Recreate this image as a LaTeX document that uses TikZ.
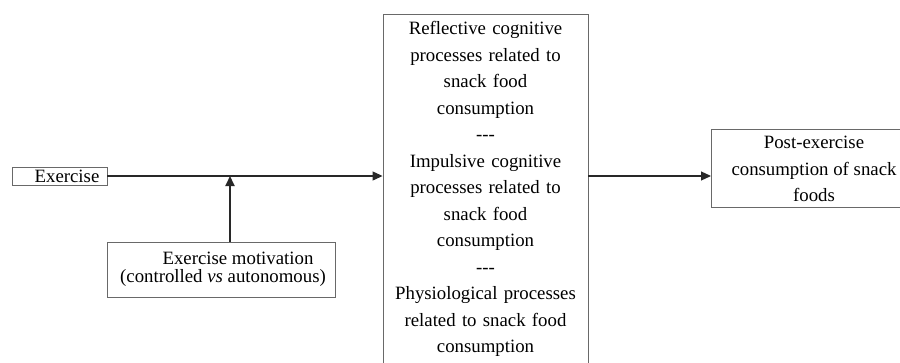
\documentclass[tikz,border=0pt]{standalone}
\usepackage{fontspec}
\setmainfont{Liberation Serif}
\usetikzlibrary{arrows.meta}
\definecolor{boxgray}{RGB}{105,105,105}
\definecolor{linegray}{RGB}{40,40,40}
\begin{document}
\begin{tikzpicture}[x=1pt,y=-1pt,
  box/.style={draw=boxgray,line width=0.9pt,inner sep=0pt,rectangle},
  txt/.style={inner sep=0pt,font=\fontsize{18.8}{26.5}\selectfont},
  conn/.style={draw=linegray,line width=1.2pt,-{Triangle[length=10pt,width=9pt]}}]
\useasboundingbox (0,0) rectangle (900,362);
\clip (0,0) rectangle (900,362);
\fill[white] (0,0) rectangle (900,362);
% Exercise
\node[box,minimum width=95pt,minimum height=18pt] (ex) at (59.5,176) {};
\node[txt] (extxt) at (67,176) {Exercise};
% Center box
\node[box,txt,minimum width=205pt,minimum height=350pt,align=center,text width=205pt] (cen) at (485.5,189)
 {Reflective cognitive\\processes related to\\snack food\\consumption\\-{}-{}-\\Impulsive cognitive\\processes related to\\snack food\\consumption\\-{}-{}-\\Physiological processes\\related to snack food\\consumption};
% Post box (its right side lies beyond the picture's edge)
\node[box,minimum width=260pt,minimum height=78pt,anchor=west] (post) at (711,168) {};
\node[txt,align=center] (posttxt) at (814,169) {Post-exercise\\consumption of snack\\foods};
% Motivation box
\node[box,minimum width=228pt,minimum height=55pt] (mot) at (221,269.5) {};
\node[txt] (mot1) at (238,258) {Exercise motivation};
\node[txt] (mot2) at (223,278) {(controlled \textit{vs} autonomous)};
% connectors
\coordinate (j) at (230,176);
\draw[conn] (ex.east) -- (ex.east -| cen.west);
\draw[conn] (ex.east -| cen.east) -- (ex.east -| post.west);
\draw[conn,line width=1.8pt] (j |- mot.north) -- (j);
\end{tikzpicture}
\end{document}
